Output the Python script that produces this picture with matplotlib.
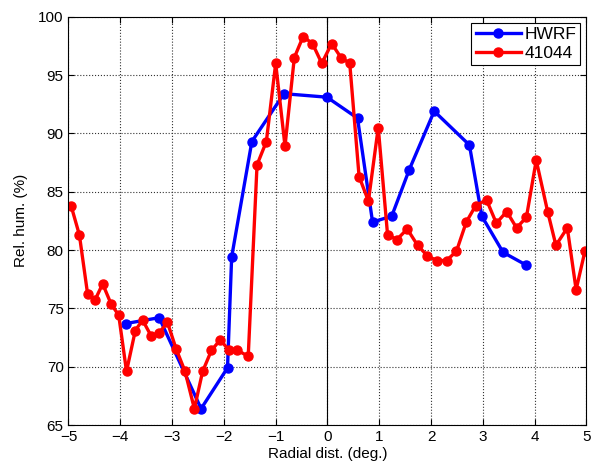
import numpy as np
import matplotlib
matplotlib.use("Agg")
import matplotlib.pyplot as plt

plt.rcParams['font.family'] = ['Liberation Sans', 'DejaVu Sans']

# HWRF model profile
hwrf_x = [-3.89, -3.25, -2.44, -1.93, -1.85, -1.46, -0.84, -0.01, 0.58, 0.87,
          1.24, 1.58, 2.06, 2.74, 2.98, 3.39, 3.84]
hwrf_y = [73.7, 74.2, 66.4, 69.9, 79.4, 89.3, 93.4, 93.1, 91.3, 82.4,
          82.9, 86.9, 91.9, 89.0, 82.9, 79.8, 78.7]

# buoy 41044 observations
buoy_x = [-4.95, -4.79, -4.63, -4.49, -4.34, -4.18, -4.03, -3.88, -3.71, -3.57,
          -3.40, -3.25, -3.09, -2.92, -2.75, -2.57, -2.41, -2.24, -2.07, -1.90,
          -1.74, -1.53, -1.36, -1.18, -1.00, -0.82, -0.64, -0.47, -0.29, -0.11,
          0.08, 0.26, 0.43, 0.61, 0.79, 0.98, 1.16, 1.34, 1.54, 1.74,
          1.93, 2.11, 2.30, 2.49, 2.68, 2.86, 3.07, 3.26, 3.46, 3.65,
          3.84, 4.03, 4.25, 4.41, 4.63, 4.80, 4.97]
buoy_y = [83.8, 81.3, 76.2, 75.7, 77.1, 75.4, 74.4, 69.6, 73.1, 74.0,
          72.6, 72.9, 73.8, 71.5, 69.6, 66.4, 69.6, 71.4, 72.3, 71.4,
          71.4, 70.9, 87.3, 89.3, 96.0, 88.9, 96.5, 98.3, 97.7, 96.0,
          97.7, 96.5, 96.0, 86.3, 84.2, 90.5, 81.3, 80.9, 81.8, 80.4,
          79.5, 79.1, 79.1, 79.9, 82.4, 83.8, 84.3, 82.3, 83.3, 81.9,
          82.8, 87.7, 83.3, 80.4, 81.9, 76.6, 79.9]

fig = plt.figure(figsize=(5.93, 4.70), dpi=100)
ax = fig.add_axes([0.1155, 0.0957, 0.8735, 0.8688])

ax.plot(hwrf_x, hwrf_y, '-o', color='blue', lw=2.4, ms=6.5, label='HWRF')
ax.plot(buoy_x, buoy_y, '-o', color='red', lw=2.4, ms=6.5, label='41044')
ax.axvline(0, color='black', lw=0.8, zorder=1)

ax.set_xlim(-5, 5)
ax.set_ylim(65, 100)
ax.set_xticks(np.arange(-5, 6, 1))
ax.set_yticks(np.arange(65, 101, 5))
ax.set_xticklabels(['\u22125', '\u22124', '\u22123', '\u22122', '\u22121',
                    '0', '1', '2', '3', '4', '5'])
ax.grid(True, linestyle=':', color='#333333', lw=0.8)
ax.set_axisbelow(True)
ax.tick_params(direction='in', labelsize=11, top=True, right=True, length=4)
for s in ax.spines.values():
    s.set_linewidth(0.8)

ax.set_xlabel('Radial dist. (deg.)', fontsize=11, labelpad=2)
ax.set_ylabel('Rel. hum. (%)', fontsize=11, labelpad=7)

leg = ax.legend(loc='upper right', fontsize=12.5, fancybox=False, framealpha=1,
                edgecolor='black', handlelength=2.6, borderpad=0.25,
                labelspacing=0.2, handletextpad=0.2, borderaxespad=0.35)
leg.get_frame().set_linewidth(0.8)

fig.savefig('out.png', dpi=100)
